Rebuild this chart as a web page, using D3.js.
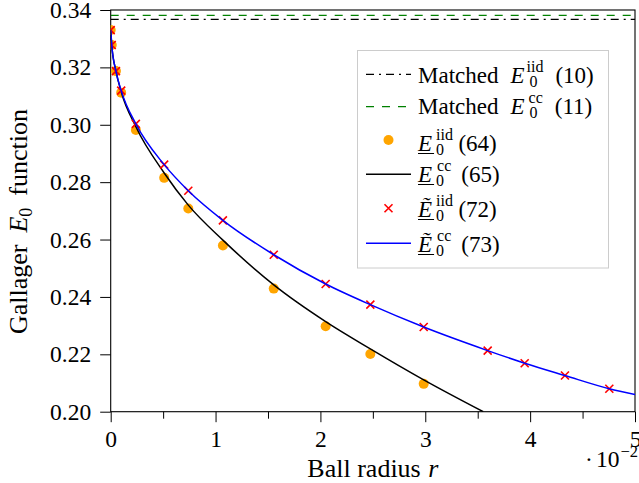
<!DOCTYPE html>
<html><head><meta charset="utf-8">
<script src="https://cdn.jsdelivr.net/npm/d3@7"></script>
<style>
body{margin:0;background:#fff}
svg{display:block}
.tx{font-family:"Liberation Serif"}
</style></head>
<body><svg id="c" width="639" height="483"></svg>
<script>
// ---------------- data (r in units of 1e-2) ----------------
const xTicks = [0, 1, 2, 3, 4, 5];
const xMinorTicks = [0.5, 1.5, 2.5, 3.5, 4.5];
const yTicks = [0.20, 0.22, 0.24, 0.26, 0.28, 0.30, 0.32, 0.34];

const matchedIid = 0.3367;   // (10)
const matchedCc = 0.3381;    // (11)

// (64) lower bound iid, orange dots
const rIid = [0, 0.01, 0.05, 0.1, 0.24, 0.51, 0.74, 1.07, 1.555, 2.05, 2.476, 2.985];
const e0IidLower = [0.3330, 0.3278, 0.3187, 0.3112, 0.2982, 0.2815, 0.2708, 0.2579, 0.2429, 0.2298, 0.2201, 0.2097];

// (65) lower bound cc, black curve
const rCcCurve = [0, 0.01, 0.05, 0.1, 0.24, 0.51, 0.74, 1.07, 1.555, 2.05, 2.476, 2.985, 3.553];
const e0CcLower = [0.3330, 0.3278, 0.3187, 0.3115, 0.2993, 0.2832, 0.2720, 0.2598, 0.2442, 0.2314, 0.2219, 0.2111, 0.2000];

// (72) tilde iid, red crosses
const rTilde = [0, 0.01, 0.05, 0.1, 0.24, 0.51, 0.74, 1.07, 1.555, 2.05, 2.476, 2.985, 3.595, 3.948, 4.332, 4.755];
const e0IidTilde = [0.3330, 0.3278, 0.3187, 0.3119, 0.3003, 0.2861, 0.2770, 0.2667, 0.2547, 0.2445, 0.2373, 0.2295, 0.2213, 0.2169, 0.2126, 0.2080];

// (73) tilde cc, blue curve
const rTildeCurve = [0, 0.01, 0.05, 0.1, 0.24, 0.51, 0.74, 1.07, 1.555, 2.05, 2.476, 2.985, 3.595, 3.948, 4.332, 4.755, 5.0];
const e0CcTilde = [0.3330, 0.3278, 0.3187, 0.3119, 0.3003, 0.2861, 0.2770, 0.2667, 0.2547, 0.2445, 0.2373, 0.2295, 0.2213, 0.2169, 0.2126, 0.2080, 0.2060];

// ---------------- layout ----------------
const FONT = '"Liberation Serif"';
const svg = d3.select('#c');
const L = 110.7, R = 635, T = 10, B = 411.7;
const x = d3.scaleLinear().domain([0, 5]).range([L, R]);
const y = d3.scaleLinear().domain([0.20, 0.34]).range([B, T]);
const FS_TICK = 23.5, FS_LAB = 26, FS_LEG = 23, FS_SCR = 16;

svg.append('defs').append('clipPath').attr('id', 'clip')
  .append('rect').attr('x', L).attr('y', T).attr('width', R - L).attr('height', B - T);

// axes
const gx = svg.append('g').attr('transform', `translate(0,${B})`)
  .call(d3.axisBottom(x).tickValues(xTicks).tickFormat(d3.format('d')).tickSize(10.5).tickSizeOuter(0).tickPadding(8.5));
gx.select('.domain').remove();
const gxm = svg.append('g').attr('transform', `translate(0,${B})`)
  .call(d3.axisBottom(x).tickValues(xMinorTicks).tickFormat('').tickSize(7).tickSizeOuter(0));
gxm.select('.domain').remove();

const gy = svg.append('g').attr('transform', `translate(${L},0)`)
  .call(d3.axisLeft(y).tickValues(yTicks).tickFormat(d3.format('.2f')).tickSize(10.5).tickSizeOuter(0).tickPadding(9));
gy.select('.domain').remove();
[gx, gxm, gy].forEach(g => g.attr('font-family', FONT).attr('font-size', null));
svg.selectAll('.tick text').attr('class', 'tx').style('font-family', FONT).style('font-size', FS_TICK + 'px').attr('fill', '#000');
svg.selectAll('.tick line').attr('stroke', '#000').attr('stroke-width', 1);

svg.append('rect').attr('x', L).attr('y', T).attr('width', R - L).attr('height', B - T)
  .attr('fill', 'none').attr('stroke', '#000').attr('stroke-width', 1.1);

// data layer
const plot = svg.append('g').attr('clip-path', 'url(#clip)');
const line = d3.line().x(d => x(d[0])).y(d => y(d[1])).curve(d3.curveMonotoneX);

plot.append('line').attr('x1', x(0)).attr('x2', x(5)).attr('y1', y(matchedIid)).attr('y2', y(matchedIid))
  .attr('stroke', '#000').attr('stroke-width', 1.2).attr('stroke-dasharray', '8,5,2,5');
plot.append('line').attr('x1', x(0)).attr('x2', x(5)).attr('y1', y(matchedCc)).attr('y2', y(matchedCc))
  .attr('stroke', '#008000').attr('stroke-width', 1.2).attr('stroke-dasharray', '8,8');

plot.selectAll('circle.iid').data(d3.zip(rIid, e0IidLower)).join('circle')
  .attr('cx', d => x(d[0])).attr('cy', d => y(d[1])).attr('r', 5).attr('fill', '#FFA500');

plot.append('path').datum(d3.zip(rCcCurve, e0CcLower)).attr('d', line)
  .attr('fill', 'none').attr('stroke', '#000').attr('stroke-width', 1.5);

const crossPath = 'M-4,-4L4,4M-4,4L4,-4';
plot.selectAll('path.cross').data(d3.zip(rTilde, e0IidTilde)).join('path').attr('class', 'cross')
  .attr('transform', d => `translate(${x(d[0])},${y(d[1])})`).attr('d', crossPath)
  .attr('stroke', '#FF0000').attr('stroke-width', 1.6).attr('fill', 'none');

plot.append('path').datum(d3.zip(rTildeCurve, e0CcTilde)).attr('d', line)
  .attr('fill', 'none').attr('stroke', '#0000FF').attr('stroke-width', 1.5);

// ---------------- math text helper ----------------
function mkText(g, xx, yy, s, fs, italic) {
  const t = g.append('text').attr('class', 'tx').attr('x', xx).attr('y', yy)
    .style('font-family', FONT).style('font-size', fs + 'px').attr('fill', '#000').text(s);
  if (italic) t.style('font-style', 'italic');
  return t;
}
function mathRow(g, x0, base, pieces) {
  let cx = x0;
  for (const p of pieces) {
    if (p.gap !== undefined) { cx += p.gap; continue; }
    if (p.text !== undefined) {
      const t = mkText(g, cx, base, p.text, p.fs || FS_LEG, p.italic);
      const w = t.node().getComputedTextLength();
      if (p.underline) {
        g.append('line').attr('x1', cx).attr('x2', cx + w + 2).attr('y1', base + 2.8).attr('y2', base + 2.8)
          .attr('stroke', '#000').attr('stroke-width', 1);
      }
      cx += w;
    } else {
      let w = 0;
      const fs = p.fs || FS_SCR;
      if (p.sub !== undefined) {
        const t = mkText(g, cx + (p.subDx || 0), base + (p.subDy || 4), p.sub, fs, false);
        w = Math.max(w, (p.subDx || 0) + t.node().getComputedTextLength());
      }
      if (p.sup !== undefined) {
        const t = mkText(g, cx + (p.supDx || 0), base - (p.supDy || 11), p.sup, fs, false);
        w = Math.max(w, (p.supDx || 0) + t.node().getComputedTextLength());
      }
      cx += w;
    }
  }
  return cx;
}

// axis labels
const xlab = svg.append('g');
const xEnd = mathRow(xlab, 0, 0, [{ text: 'Ball', fs: FS_LAB }, { gap: 6.5 }, { text: 'radius', fs: FS_LAB }, { gap: 7.5 }, { text: 'r', italic: true, fs: FS_LAB }]);
xlab.attr('transform', `translate(${(L + R) / 2 - xEnd / 2},476.5)`);

const ylab = svg.append('g');
const yEnd = mathRow(ylab, 0, 0, [
  { text: 'Gallager', fs: FS_LAB }, { gap: 12 }, { text: 'E', italic: true, fs: FS_LAB },
  { sub: '0', subDx: 0, subDy: 4.5, fs: 18 }, { gap: 12 }, { text: 'function', fs: FS_LAB }
]);
ylab.attr('transform', `translate(27,${221.5}) rotate(-90) translate(${-yEnd / 2},0)`);

// ·10^-2
const expG = svg.append('g');
const expEnd = mathRow(expG, 0, 0, [
  { text: '\u00B7', fs: FS_TICK }, { gap: 3 }, { text: '10', fs: FS_TICK }, { sup: '\u22122', supDx: 1, supDy: 10, fs: 16.5 }
]);
expG.attr('transform', `translate(${638 - expEnd},467)`);

// ---------------- legend ----------------
const leg = svg.append('g');
leg.append('rect').attr('x', 357.5).attr('y', 50.5).attr('width', 251).attr('height', 217.5)
  .attr('fill', '#fff').attr('stroke', '#cccccc').attr('stroke-width', 1);

const symX1 = 366, symX2 = 411, symXc = 388.5, textX = 418;
const legRows = [
  { sym: 'dashdot', sy: 74.3, base: 82.7 },
  { sym: 'dashed', sy: 106.7, base: 113.5 },
  { sym: 'dot', sy: 140, base: 150.7 },
  { sym: 'black', sy: 174.3, base: 181.7 },
  { sym: 'cross', sy: 208.3, base: 216.7 },
  { sym: 'blue', sy: 243.3, base: 251.7 }
];
const legTexts = [
  [{ text: 'Matched' }, { gap: 12 }, { text: 'E', italic: true }, { sub: '0', subDx: 5, sup: 'iid', supDx: 2 }, { gap: 12 }, { text: '(10)' }],
  [{ text: 'Matched' }, { gap: 12 }, { text: 'E', italic: true }, { sub: '0', subDx: 5, sup: 'cc', supDx: 4 }, { gap: 12 }, { text: '(11)' }],
  [{ text: 'E', italic: true, underline: true }, { sub: '0', subDx: 4, sup: 'iid', supDx: 4 }, { gap: 5.5 }, { text: '(64)' }],
  [{ text: 'E', italic: true, underline: true }, { sub: '0', subDx: 4, sup: 'cc', supDx: 5 }, { gap: 10 }, { text: '(65)' }],
  [{ text: '\u1EBC', italic: true, underline: true }, { sub: '0', subDx: 4, sup: 'iid', supDx: 4 }, { gap: 5.5 }, { text: '(72)' }],
  [{ text: '\u1EBC', italic: true, underline: true }, { sub: '0', subDx: 4, sup: 'cc', supDx: 5 }, { gap: 10 }, { text: '(73)' }]
];
legRows.forEach((r, i) => {
  const yy = r.sy;
  if (r.sym === 'dashdot') leg.append('line').attr('x1', symX1).attr('x2', symX2).attr('y1', yy).attr('y2', yy)
    .attr('stroke', '#000').attr('stroke-width', 1.2).attr('stroke-dasharray', '8,5,2,5');
  if (r.sym === 'dashed') leg.append('line').attr('x1', symX1).attr('x2', symX2).attr('y1', yy).attr('y2', yy)
    .attr('stroke', '#008000').attr('stroke-width', 1.2).attr('stroke-dasharray', '8,8');
  if (r.sym === 'dot') leg.append('circle').attr('cx', symXc).attr('cy', yy).attr('r', 5).attr('fill', '#FFA500');
  if (r.sym === 'black') leg.append('line').attr('x1', symX1).attr('x2', symX2).attr('y1', yy).attr('y2', yy)
    .attr('stroke', '#000').attr('stroke-width', 1.5);
  if (r.sym === 'cross') leg.append('path').attr('transform', `translate(${symXc},${yy})`).attr('d', crossPath)
    .attr('stroke', '#FF0000').attr('stroke-width', 1.6).attr('fill', 'none');
  if (r.sym === 'blue') leg.append('line').attr('x1', symX1).attr('x2', symX2).attr('y1', yy).attr('y2', yy)
    .attr('stroke', '#0000FF').attr('stroke-width', 1.5);
  mathRow(leg, textX, r.base, legTexts[i]);
});
</script></body></html>
